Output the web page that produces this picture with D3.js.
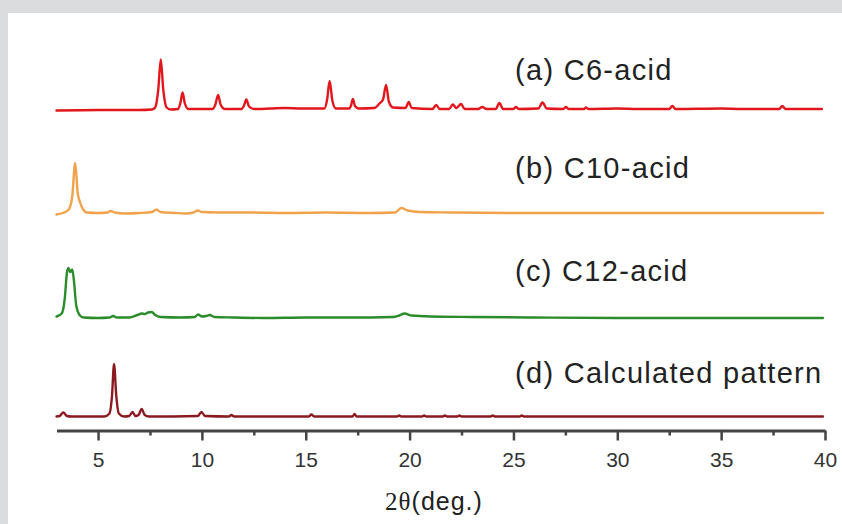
<!DOCTYPE html>
<html>
<head>
<meta charset="utf-8">
<script src="https://cdn.jsdelivr.net/npm/d3@7"></script>
<style>
  html, body { margin: 0; padding: 0; background: #ffffff; }
  svg { display: block; }
</style>
</head>
<body>
<svg id="chart" width="842" height="524"></svg>
<script>
// ---------------- data ----------------
// x: 2-theta (deg.), y: relative intensity (a.u.), main peak of each pattern ~100
const seriesNames = ["(a) C6-acid", "(b) C10-acid", "(c) C12-acid", "(d) Calculated pattern"];
const seriesColors = ["#e1171d", "#f2a24b", "#2b8c2b", "#8a1a1f"];
const seriesOffsets = [614, 407, 197, 0];

const c6Acid = [
  [3.0, -2], [5.0, -1], [7.0, -1], [7.6, 0], [7.75, 4], [7.9, 40], [8.02, 100], [8.14, 40], [8.3, 4], [8.5, 0],
  [8.85, 1], [8.97, 14], [9.07, 34], [9.18, 12], [9.35, 1], [10.5, 1], [10.65, 10], [10.78, 29], [10.9, 10], [11.1, 1],
  [11.9, 1], [12.02, 7], [12.14, 20], [12.27, 6], [12.5, 1], [13.3, 2], [14.0, 3], [14.8, 2], [15.9, 2],
  [16.03, 20], [16.15, 57], [16.28, 18], [16.45, 2], [17.1, 2], [17.18, 8], [17.27, 21], [17.37, 7], [17.55, 2],
  [18.3, 3], [18.55, 12], [18.72, 20], [18.87, 49], [19.0, 16], [19.2, 4], [19.8, 3], [19.96, 15], [20.1, 3],
  [21.1, 1], [21.28, 9], [21.45, 1], [21.9, 1], [22.08, 10], [22.25, 3], [22.48, 11], [22.65, 1],
  [23.3, 1], [23.5, 5], [23.7, 1], [24.15, 1], [24.32, 13], [24.5, 1], [25.0, 1], [25.12, 5], [25.25, 1],
  [26.2, 2], [26.4, 14], [26.6, 2], [27.4, 1], [27.53, 5], [27.65, 1], [28.4, 1], [28.49, 4], [28.6, 1],
  [30.0, 2], [31.0, 1], [32.5, 1], [32.65, 7], [32.8, 1], [35.0, 2], [36.0, 1], [37.8, 1], [37.94, 7], [38.1, 1], [39.85, 1]
];

const c10Acid = [
  [3.0, -3], [3.3, 0], [3.57, 6], [3.75, 30], [3.9, 100], [4.02, 40], [4.13, 22], [4.3, 6], [4.45, 1],
  [5.0, 0], [5.45, 1], [5.6, 4], [5.8, 1], [6.3, -1], [7.0, 0], [7.6, 2], [7.82, 7], [8.0, 2], [8.7, 0],
  [9.2, -1], [9.6, 1], [9.8, 5], [10.0, 2], [11.5, 1], [12.5, 1], [14.0, 0], [16.0, 1], [18.0, 0],
  [19.3, 1], [19.6, 10], [19.9, 5], [20.5, 2], [22.0, 1], [25.0, 0], [30.0, 0], [35.0, 0], [39.9, 0]
];

const c12Acid = [
  [3.0, 3], [3.25, 9], [3.4, 40], [3.5, 90], [3.57, 100], [3.67, 92], [3.76, 97], [3.85, 70], [3.95, 25],
  [4.13, 5], [4.3, 1], [5.0, 0], [5.55, 1], [5.73, 4], [5.9, 1], [6.5, 1], [6.9, 6], [7.1, 9], [7.25, 8],
  [7.41, 11], [7.58, 12], [7.75, 6], [8.0, 2], [9.0, 1], [9.65, 2], [9.82, 7], [10.0, 3], [10.2, 4],
  [10.38, 6], [10.6, 2], [11.5, 1], [13.0, 0], [15.0, 1], [17.0, 1], [19.2, 2], [19.5, 5], [19.76, 9],
  [20.1, 5], [21.0, 3], [23.0, 2], [26.0, 1], [30.0, 0], [35.0, 0], [39.9, 0]
];

const calculated = [
  [3.0, 0], [3.15, 1], [3.33, 8], [3.5, 1], [3.7, 0], [5.3, 0], [5.55, 6], [5.67, 40], [5.77, 105], [5.88, 40],
  [6.0, 6], [6.25, 0], [6.5, 1], [6.66, 9], [6.8, 1], [6.95, 3], [7.1, 15], [7.25, 3], [7.45, 0],
  [9.8, 1], [9.98, 9], [10.15, 1], [11.3, 0], [11.42, 3], [11.55, 0], [15.15, 0], [15.27, 4], [15.4, 0],
  [17.25, 0], [17.35, 5], [17.45, 0], [19.4, 0], [19.5, 2], [19.6, 0], [20.6, 0], [20.7, 2], [20.8, 0],
  [21.6, 0], [21.7, 2], [21.8, 0], [22.3, 0], [22.4, 2], [22.5, 0], [23.9, 0], [24.0, 2], [24.1, 0],
  [25.3, 0], [25.4, 2], [25.5, 0], [39.9, 0]
];

const seriesData = [c6Acid, c10Acid, c12Acid, calculated];

const majorTicks = [5, 10, 15, 20, 25, 30, 35, 40];
const minorTicks = [7.5, 12.5, 17.5, 22.5, 27.5, 32.5, 37.5];
const xDomain = [3, 40];
const xTitleMain = "2θ";
const xTitleUnit = "(deg.)";

// ---------------- drawing ----------------
const W = 842, H = 524;
const svg = d3.select("#chart");

svg.append("rect").attr("x", 0).attr("y", 0).attr("width", W).attr("height", H).attr("fill", "#ffffff");
svg.append("rect").attr("x", 0).attr("y", 0).attr("width", W).attr("height", 13).attr("fill", "#dbdcdd");
svg.append("rect").attr("x", 0).attr("y", 0).attr("width", 8).attr("height", H).attr("fill", "#dbdcdd");

const x = d3.scaleLinear().domain(xDomain).range([56.5, 825]);
const y = d3.scaleLinear().domain([0, 800]).range([416.5, 16.5]);
const axisY = 430.5;

const line = d3.line().curve(d3.curveMonotoneX);

seriesData.forEach((pts, i) => {
  svg.append("path")
    .attr("d", line(pts.map(p => [x(p[0]), y(p[1] + seriesOffsets[i])])))
    .attr("fill", "none")
    .attr("stroke", seriesColors[i])
    .attr("stroke-width", 2.4)
    .attr("stroke-linejoin", "round")
    .attr("stroke-linecap", "round");
});

// labels
const labelY = [80, 178, 281, 383];
seriesNames.forEach((name, i) => {
  svg.append("text")
    .attr("x", 515)
    .attr("y", labelY[i])
    .attr("font-family", "Liberation Sans, Arial, sans-serif")
    .attr("font-size", 29)
    .attr("letter-spacing", 1.3)
    .attr("fill", "#222")
    .text(name);
});

// axis
const minorAxis = d3.axisBottom(x).tickValues(minorTicks).tickSize(5).tickSizeOuter(0).tickFormat("");
const majorAxis = d3.axisBottom(x).tickValues(majorTicks).tickSize(10).tickSizeOuter(0).tickPadding(11.6).tickFormat(d3.format("d"));

const gMinor = svg.append("g").attr("transform", `translate(0,${axisY})`).call(minorAxis);
gMinor.select(".domain").remove();
gMinor.selectAll(".tick line").attr("stroke", "#444").attr("stroke-width", 2.5);

const gMajor = svg.append("g").attr("transform", `translate(0,${axisY})`).call(majorAxis);
gMajor.select(".domain").attr("stroke", "#444").attr("stroke-width", 3);
gMajor.selectAll(".tick line").attr("stroke", "#444").attr("stroke-width", 2.5);
gMajor.selectAll(".tick text")
  .attr("font-family", "Liberation Sans, Arial, sans-serif")
  .attr("font-size", 21)
  .attr("fill", "#333");

const title = svg.append("text")
  .attr("x", 434)
  .attr("y", 510)
  .attr("text-anchor", "middle")
  .attr("font-size", 25)
  .attr("letter-spacing", 1)
  .attr("fill", "#222");
title.append("tspan").attr("font-family", "Liberation Serif, Times New Roman, serif").text(xTitleMain);
title.append("tspan").attr("font-family", "Liberation Sans, Arial, sans-serif").text(xTitleUnit);
</script>
</body>
</html>
